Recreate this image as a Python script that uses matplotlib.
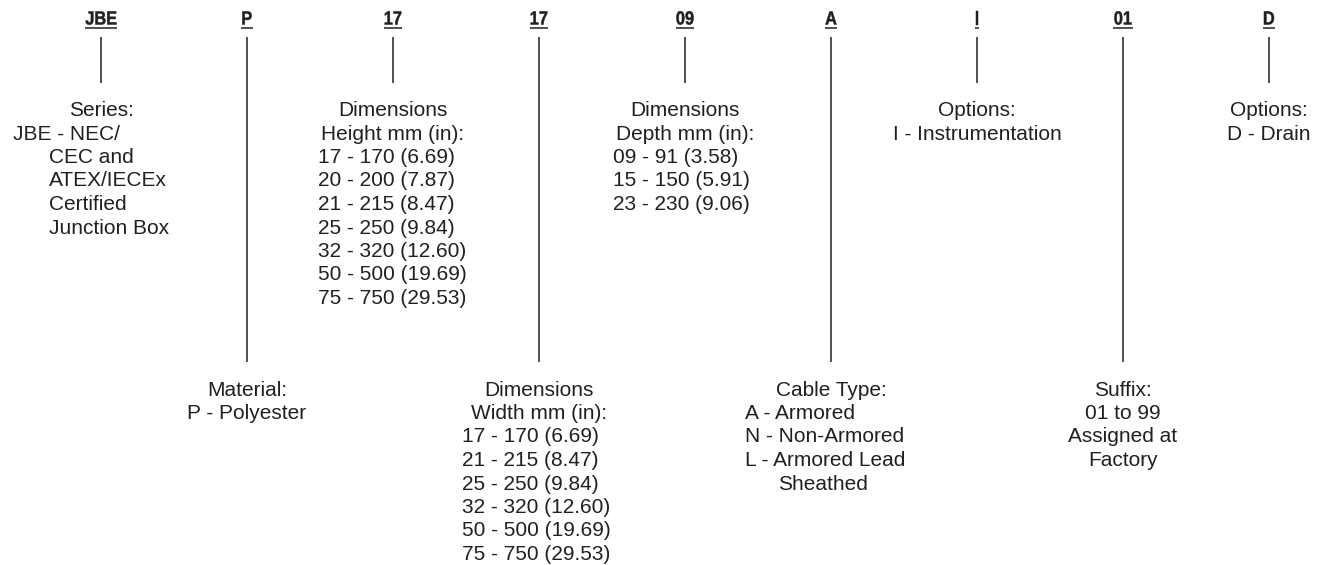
import matplotlib
matplotlib.use("Agg")
import matplotlib.pyplot as plt
from matplotlib import font_manager
from matplotlib.font_manager import FontProperties
from matplotlib.textpath import TextPath
from matplotlib.patches import PathPatch
from matplotlib.transforms import Affine2D

# ---------------- data ----------------
codes = ["JBE", "P", "17", "17", "09", "A", "I", "01", "D"]
long_stem = [False, True, False, True, False, True, False, True, False]

series_lines = ["Series:", "JBE - NEC/", "CEC and", "ATEX/IECEx", "Certified", "Junction Box"]
material_lines = ["Material:", "P - Polyester"]
height_lines = ["Dimensions", "Height mm (in):", "17 - 170 (6.69)", "20 - 200 (7.87)",
                "21 - 215 (8.47)", "25 - 250 (9.84)", "32 - 320 (12.60)",
                "50 - 500 (19.69)", "75 - 750 (29.53)"]
width_lines = ["Dimensions", "Width mm (in):", "17 - 170 (6.69)", "21 - 215 (8.47)",
               "25 - 250 (9.84)", "32 - 320 (12.60)", "50 - 500 (19.69)",
               "75 - 750 (29.53)"]
depth_lines = ["Dimensions", "Depth mm (in):", "09 - 91 (3.58)", "15 - 150 (5.91)",
               "23 - 230 (9.06)"]
cable_lines = ["Cable Type:", "A - Armored", "N - Non-Armored", "L - Armored Lead", "Sheathed"]
options_i_lines = ["Options:", "I - Instrumentation"]
suffix_lines = ["Suffix:", "01 to 99", "Assigned at", "Factory"]
options_d_lines = ["Options:", "D - Drain"]

blocks = [series_lines, material_lines, height_lines, width_lines, depth_lines,
          cable_lines, options_i_lines, suffix_lines, options_d_lines]

# ---------------- layout ----------------
W, H = 1325, 565
col_x0, col_dx = 101, 146
ink = "#231f20"

# per-line horizontal alignment: None = centered on column, number = left edge offset
align = [
    [None, -88, -52, -52, -52, -52],
    [None, None],
    [None, None, -75, -75, -75, -75, -75, -75, -75],
    [None, None, -77, -77, -77, -77, -77, -77],
    [None, None, -72, -72, -72],
    [None, -86, -86, -86, -53],
    [None, None],
    [None, None, None, None],
    [None, None],
]

installed = {f.name for f in font_manager.fontManager.ttflist}
body_font = "Liberation Sans" if "Liberation Sans" in installed else "DejaVu Sans"

fig = plt.figure(figsize=(W / 100, H / 100), dpi=100)
ax = fig.add_axes([0, 0, 1, 1])
ax.set_xlim(0, W)
ax.set_ylim(H, 0)
ax.axis("off")

code_base = 24.5
stem_top = 36.5
short_bot, long_bot = 83, 362
upper_base, lower_base, step = 116, 395.5, 23.5
fs = 15

code_prop = FontProperties(family=body_font, weight="bold")
code_size, code_sx = 19.0, 0.86

for i, code in enumerate(codes):
    x = col_x0 + col_dx * i
    # condensed bold code label, drawn as a horizontally squeezed text path
    tp = TextPath((0, 0), code, size=code_size, prop=code_prop)
    ext = tp.get_extents()
    w = (ext.x1 - ext.x0) * code_sx
    tr = Affine2D().translate(-ext.x0, 0).scale(code_sx, -1).translate(x - w / 2, code_base)
    ax.add_patch(PathPatch(tr.transform_path(tp), facecolor=ink, edgecolor=ink,
                           lw=0.35, joinstyle="miter"))
    ax.plot([x - w / 2 - 1, x + w / 2 + 1], [27.8, 27.8], color=ink, lw=1.1,
            solid_capstyle="butt")

    ax.plot([x, x], [stem_top, long_bot if long_stem[i] else short_bot],
            color=ink, lw=1.1, solid_capstyle="butt")
    base = lower_base if long_stem[i] else upper_base
    for j, line in enumerate(blocks[i]):
        a = align[i][j]
        y = base + step * j
        if a is None:
            ax.text(x, y, line, ha="center", va="baseline", fontsize=fs,
                    family=body_font, color=ink)
        else:
            ax.text(x + a, y, line, ha="left", va="baseline", fontsize=fs,
                    family=body_font, color=ink)

fig.savefig("out.png", dpi=100, facecolor="white")
